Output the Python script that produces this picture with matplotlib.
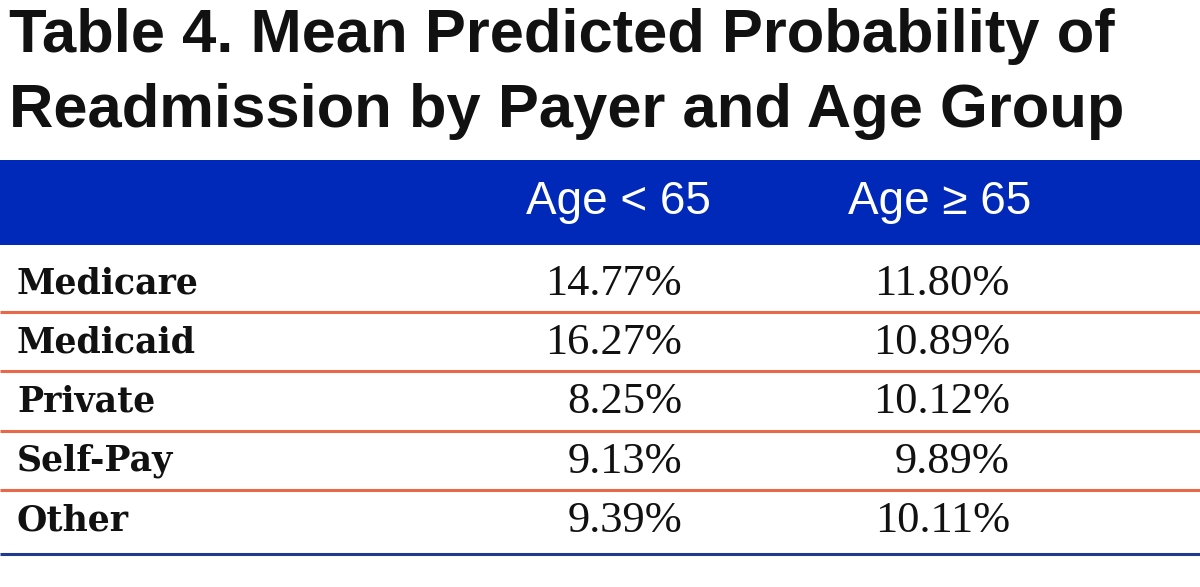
import matplotlib.pyplot as plt
from matplotlib.patches import Rectangle

# table contents
title_lines = ["Table 4. Mean Predicted Probability of",
               "Readmission by Payer and Age Group"]
col_headers = ["Age < 65", "Age \u2265 65"]
payers = ["Medicare", "Medicaid", "Private", "Self-Pay", "Other"]
under_65 = [14.77, 16.27, 8.25, 9.13, 9.39]
over_65 = [11.80, 10.89, 10.12, 9.89, 10.11]

blue = "#0029B9"
orange = "#E8694A"
navy = "#1F3A8F"

fig = plt.figure(figsize=(12, 5.87), dpi=100)
ax = fig.add_axes([0, 0, 1, 1])
ax.set_xlim(0, 1200)
ax.set_ylim(587, 0)
ax.axis("off")

# title, two lines
for i, line in enumerate(title_lines):
    ax.text(9, 52 + 75 * i, line, ha="left", va="baseline", fontsize=44.3,
            fontweight="bold", family="Liberation Sans", color="#111111")

# header band
head_top, head_h = 160, 85
ax.add_patch(Rectangle((0, head_top), 1200, head_h, color=blue, lw=0))
col_x = [618, 940]
for x, h in zip(col_x, col_headers):
    ax.text(x, head_top + head_h / 2, h, ha="center", va="center", color="white",
            fontsize=33, family=["Liberation Sans Narrow", "Liberation Sans"])

# rows
row0, row_h = 252.7, 59.3
val_x = [682, 1010]
for i, (p, a, b) in enumerate(zip(payers, under_65, over_65)):
    yc = row0 + row_h * (i + 0.5)
    ax.text(17, yc + 1, p, ha="left", va="center", fontsize=25, fontweight="bold",
            family="DejaVu Serif", color="#111111")
    for x, v in zip(val_x, (a, b)):
        ax.text(x, yc + 1.5, f"{v:.2f}%", ha="right", va="center", fontsize=32,
                family="Liberation Serif", color="#111111")
    if i < len(payers) - 1:
        ax.plot([0, 1200], [row0 + row_h * (i + 1)] * 2, color=orange, lw=2.2,
                solid_capstyle="butt")

ax.plot([0, 1200], [554, 554], color=navy, lw=2.2, solid_capstyle="butt")

fig.savefig("out.png", dpi=100)
